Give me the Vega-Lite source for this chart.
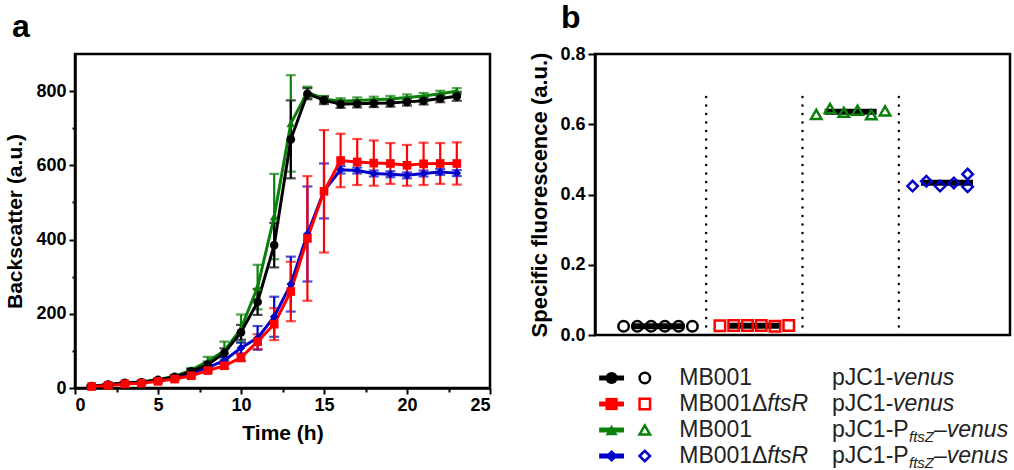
{
  "$schema": "https://vega.github.io/schema/vega-lite/v6.json",
  "background": "white",
  "padding": {"left": 3, "top": 0, "right": 0, "bottom": 0},
  "spacing": 34,
  "resolve": {"scale": {"x": "independent", "y": "independent", "color": "independent", "shape": "independent"}},
  "config": {
    "font": "Liberation Sans",
    "view": {"stroke": "black", "strokeWidth": 2.5},
    "axis": {"domainColor": "black", "domainWidth": 2.5, "tickColor": "black", "tickWidth": 2, "labelColor": "black", "labelFontWeight": "bold", "labelFontSize": 18, "labelFont": "Liberation Sans", "titleColor": "black", "titleFontWeight": "bold", "titleFontSize": 21, "titleFont": "Liberation Sans", "grid": false},
    "title": {"font": "Liberation Sans", "fontWeight": "bold", "fontSize": 32, "color": "black", "anchor": "start", "frame": "group"}
  },
  "hconcat": [
    {
      "width": 415,
      "height": 334,
      "title": {"text": "a", "dx": -63, "offset": 10},
      "data": {"values": [
        {"series": "MB001 pJC1-PftsZ-venus", "t": 1, "v": 5, "e": 2},
        {"series": "MB001 pJC1-PftsZ-venus", "t": 2, "v": 9, "e": 2},
        {"series": "MB001 pJC1-PftsZ-venus", "t": 3, "v": 14, "e": 2},
        {"series": "MB001 pJC1-PftsZ-venus", "t": 4, "v": 16, "e": 2},
        {"series": "MB001 pJC1-PftsZ-venus", "t": 5, "v": 23, "e": 3},
        {"series": "MB001 pJC1-PftsZ-venus", "t": 6, "v": 31, "e": 4},
        {"series": "MB001 pJC1-PftsZ-venus", "t": 7, "v": 48, "e": 6},
        {"series": "MB001 pJC1-PftsZ-venus", "t": 8, "v": 72, "e": 12},
        {"series": "MB001 pJC1-PftsZ-venus", "t": 9, "v": 100, "e": 25},
        {"series": "MB001 pJC1-PftsZ-venus", "t": 10, "v": 160, "e": 38},
        {"series": "MB001 pJC1-PftsZ-venus", "t": 11, "v": 272, "e": 60},
        {"series": "MB001 pJC1-PftsZ-venus", "t": 12, "v": 462, "e": 115},
        {"series": "MB001 pJC1-PftsZ-venus", "t": 13, "v": 713, "e": 130},
        {"series": "MB001 pJC1-PftsZ-venus", "t": 14, "v": 797, "e": 15},
        {"series": "MB001 pJC1-PftsZ-venus", "t": 15, "v": 779, "e": 8},
        {"series": "MB001 pJC1-PftsZ-venus", "t": 16, "v": 773, "e": 8},
        {"series": "MB001 pJC1-PftsZ-venus", "t": 17, "v": 775, "e": 8},
        {"series": "MB001 pJC1-PftsZ-venus", "t": 18, "v": 777, "e": 8},
        {"series": "MB001 pJC1-PftsZ-venus", "t": 19, "v": 779, "e": 8},
        {"series": "MB001 pJC1-PftsZ-venus", "t": 20, "v": 783, "e": 8},
        {"series": "MB001 pJC1-PftsZ-venus", "t": 21, "v": 787, "e": 8},
        {"series": "MB001 pJC1-PftsZ-venus", "t": 22, "v": 793, "e": 8},
        {"series": "MB001 pJC1-PftsZ-venus", "t": 23, "v": 800, "e": 8},
        {"series": "MB001ΔftsR pJC1-PftsZ-venus", "t": 1, "v": 5, "e": 2},
        {"series": "MB001ΔftsR pJC1-PftsZ-venus", "t": 2, "v": 9, "e": 2},
        {"series": "MB001ΔftsR pJC1-PftsZ-venus", "t": 3, "v": 13, "e": 2},
        {"series": "MB001ΔftsR pJC1-PftsZ-venus", "t": 4, "v": 15, "e": 2},
        {"series": "MB001ΔftsR pJC1-PftsZ-venus", "t": 5, "v": 20, "e": 3},
        {"series": "MB001ΔftsR pJC1-PftsZ-venus", "t": 6, "v": 27, "e": 4},
        {"series": "MB001ΔftsR pJC1-PftsZ-venus", "t": 7, "v": 40, "e": 5},
        {"series": "MB001ΔftsR pJC1-PftsZ-venus", "t": 8, "v": 55, "e": 7},
        {"series": "MB001ΔftsR pJC1-PftsZ-venus", "t": 9, "v": 74, "e": 9},
        {"series": "MB001ΔftsR pJC1-PftsZ-venus", "t": 10, "v": 108, "e": 15},
        {"series": "MB001ΔftsR pJC1-PftsZ-venus", "t": 11, "v": 135, "e": 32},
        {"series": "MB001ΔftsR pJC1-PftsZ-venus", "t": 12, "v": 192, "e": 54},
        {"series": "MB001ΔftsR pJC1-PftsZ-venus", "t": 13, "v": 280, "e": 74},
        {"series": "MB001ΔftsR pJC1-PftsZ-venus", "t": 14, "v": 415, "e": 128},
        {"series": "MB001ΔftsR pJC1-PftsZ-venus", "t": 15, "v": 531, "e": 74},
        {"series": "MB001ΔftsR pJC1-PftsZ-venus", "t": 16, "v": 588, "e": 10},
        {"series": "MB001ΔftsR pJC1-PftsZ-venus", "t": 17, "v": 586, "e": 8},
        {"series": "MB001ΔftsR pJC1-PftsZ-venus", "t": 18, "v": 578, "e": 8},
        {"series": "MB001ΔftsR pJC1-PftsZ-venus", "t": 19, "v": 576, "e": 8},
        {"series": "MB001ΔftsR pJC1-PftsZ-venus", "t": 20, "v": 573, "e": 8},
        {"series": "MB001ΔftsR pJC1-PftsZ-venus", "t": 21, "v": 578, "e": 8},
        {"series": "MB001ΔftsR pJC1-PftsZ-venus", "t": 22, "v": 582, "e": 8},
        {"series": "MB001ΔftsR pJC1-PftsZ-venus", "t": 23, "v": 579, "e": 8},
        {"series": "MB001 pJC1-venus", "t": 1, "v": 5, "e": 2},
        {"series": "MB001 pJC1-venus", "t": 2, "v": 9, "e": 2},
        {"series": "MB001 pJC1-venus", "t": 3, "v": 14, "e": 2},
        {"series": "MB001 pJC1-venus", "t": 4, "v": 15, "e": 2},
        {"series": "MB001 pJC1-venus", "t": 5, "v": 22, "e": 3},
        {"series": "MB001 pJC1-venus", "t": 6, "v": 30, "e": 4},
        {"series": "MB001 pJC1-venus", "t": 7, "v": 45, "e": 6},
        {"series": "MB001 pJC1-venus", "t": 8, "v": 63, "e": 8},
        {"series": "MB001 pJC1-venus", "t": 9, "v": 95, "e": 12},
        {"series": "MB001 pJC1-venus", "t": 10, "v": 150, "e": 20},
        {"series": "MB001 pJC1-venus", "t": 11, "v": 232, "e": 35},
        {"series": "MB001 pJC1-venus", "t": 12, "v": 385, "e": 60},
        {"series": "MB001 pJC1-venus", "t": 13, "v": 670, "e": 105},
        {"series": "MB001 pJC1-venus", "t": 14, "v": 793, "e": 15},
        {"series": "MB001 pJC1-venus", "t": 15, "v": 775, "e": 10},
        {"series": "MB001 pJC1-venus", "t": 16, "v": 765, "e": 10},
        {"series": "MB001 pJC1-venus", "t": 17, "v": 766, "e": 10},
        {"series": "MB001 pJC1-venus", "t": 18, "v": 767, "e": 10},
        {"series": "MB001 pJC1-venus", "t": 19, "v": 768, "e": 10},
        {"series": "MB001 pJC1-venus", "t": 20, "v": 771, "e": 10},
        {"series": "MB001 pJC1-venus", "t": 21, "v": 774, "e": 10},
        {"series": "MB001 pJC1-venus", "t": 22, "v": 780, "e": 10},
        {"series": "MB001 pJC1-venus", "t": 23, "v": 786, "e": 12},
        {"series": "MB001ΔftsR pJC1-venus", "t": 1, "v": 4, "e": 2},
        {"series": "MB001ΔftsR pJC1-venus", "t": 2, "v": 7, "e": 2},
        {"series": "MB001ΔftsR pJC1-venus", "t": 3, "v": 11, "e": 2},
        {"series": "MB001ΔftsR pJC1-venus", "t": 4, "v": 13, "e": 2},
        {"series": "MB001ΔftsR pJC1-venus", "t": 5, "v": 18, "e": 3},
        {"series": "MB001ΔftsR pJC1-venus", "t": 6, "v": 24, "e": 4},
        {"series": "MB001ΔftsR pJC1-venus", "t": 7, "v": 33, "e": 5},
        {"series": "MB001ΔftsR pJC1-venus", "t": 8, "v": 47, "e": 6},
        {"series": "MB001ΔftsR pJC1-venus", "t": 9, "v": 60, "e": 8},
        {"series": "MB001ΔftsR pJC1-venus", "t": 10, "v": 82, "e": 10},
        {"series": "MB001ΔftsR pJC1-venus", "t": 11, "v": 125, "e": 20},
        {"series": "MB001ΔftsR pJC1-venus", "t": 12, "v": 172, "e": 43},
        {"series": "MB001ΔftsR pJC1-venus", "t": 13, "v": 260, "e": 80},
        {"series": "MB001ΔftsR pJC1-venus", "t": 14, "v": 403, "e": 168},
        {"series": "MB001ΔftsR pJC1-venus", "t": 15, "v": 530, "e": 165},
        {"series": "MB001ΔftsR pJC1-venus", "t": 16, "v": 613, "e": 72},
        {"series": "MB001ΔftsR pJC1-venus", "t": 17, "v": 609, "e": 62},
        {"series": "MB001ΔftsR pJC1-venus", "t": 18, "v": 606, "e": 61},
        {"series": "MB001ΔftsR pJC1-venus", "t": 19, "v": 605, "e": 55},
        {"series": "MB001ΔftsR pJC1-venus", "t": 20, "v": 600, "e": 55},
        {"series": "MB001ΔftsR pJC1-venus", "t": 21, "v": 604, "e": 57},
        {"series": "MB001ΔftsR pJC1-venus", "t": 22, "v": 605, "e": 55},
        {"series": "MB001ΔftsR pJC1-venus", "t": 23, "v": 605, "e": 57}
      ]},
      "encoding": {
        "x": {"field": "t", "type": "quantitative", "scale": {"domain": [0, 25], "nice": false},
          "axis": {"title": "Time (h)", "values": [0, 2.5, 5, 7.5, 10, 12.5, 15, 17.5, 20, 22.5, 25],
            "labelExpr": "datum.value % 5 === 0 ? datum.label : ''",
            "tickSize": {"condition": {"test": "datum.value % 5 === 0", "value": 6}, "value": 4},
            "labelPadding": 2, "titlePadding": 8}},
        "y": {"field": "v", "type": "quantitative", "scale": {"domain": [0, 900], "nice": false},
          "axis": {"title": "Backscatter (a.u.)", "values": [0, 100, 200, 300, 400, 500, 600, 700, 800],
            "labelExpr": "datum.value % 200 === 0 ? datum.label : ''",
            "tickSize": {"condition": {"test": "datum.value % 200 === 0", "value": 6}, "value": 3},
            "labelPadding": 3, "titlePadding": 10}},
        "color": {"field": "series", "type": "nominal", "legend": null,
          "scale": {"domain": ["MB001 pJC1-venus", "MB001ΔftsR pJC1-venus", "MB001 pJC1-PftsZ-venus", "MB001ΔftsR pJC1-PftsZ-venus"], "range": ["#000000", "#ff0000", "#0a800a", "#0000c8"]}}
      },
      "layer": [
        {"mark": {"type": "errorbar", "ticks": true, "thickness": 2.2, "size": 10},
          "encoding": {"yError": {"field": "e"}}},
        {"mark": {"type": "line", "strokeWidth": 3}},
        {"mark": {"type": "point", "filled": true, "opacity": 1, "size": 75},
          "encoding": {"shape": {"field": "series", "type": "nominal", "legend": null,
            "scale": {"domain": ["MB001 pJC1-venus", "MB001ΔftsR pJC1-venus", "MB001 pJC1-PftsZ-venus", "MB001ΔftsR pJC1-PftsZ-venus"], "range": ["circle", "square", "triangle-up", "diamond"]}}}}
      ]
    },
    {
      "spacing": 19,
      "resolve": {"scale": {"x": "independent", "y": "independent", "color": "independent", "shape": "independent"}},
      "vconcat": [
        {
          "width": 415,
          "height": 281,
          "title": {"text": "b", "dx": -34, "offset": 10},
          "data": {"values": [
            {"series": "MB001 pJC1-venus", "r": 1, "v": 0.025},
            {"series": "MB001 pJC1-venus", "r": 2, "v": 0.025},
            {"series": "MB001 pJC1-venus", "r": 3, "v": 0.025},
            {"series": "MB001 pJC1-venus", "r": 4, "v": 0.025},
            {"series": "MB001 pJC1-venus", "r": 5, "v": 0.025},
            {"series": "MB001 pJC1-venus", "r": 6, "v": 0.025},
            {"series": "MB001ΔftsR pJC1-venus", "r": 1, "v": 0.026},
            {"series": "MB001ΔftsR pJC1-venus", "r": 2, "v": 0.027},
            {"series": "MB001ΔftsR pJC1-venus", "r": 3, "v": 0.027},
            {"series": "MB001ΔftsR pJC1-venus", "r": 4, "v": 0.027},
            {"series": "MB001ΔftsR pJC1-venus", "r": 5, "v": 0.025},
            {"series": "MB001ΔftsR pJC1-venus", "r": 6, "v": 0.027},
            {"series": "MB001 pJC1-PftsZ-venus", "r": 1, "v": 0.628},
            {"series": "MB001 pJC1-PftsZ-venus", "r": 2, "v": 0.645},
            {"series": "MB001 pJC1-PftsZ-venus", "r": 3, "v": 0.634},
            {"series": "MB001 pJC1-PftsZ-venus", "r": 4, "v": 0.640},
            {"series": "MB001 pJC1-PftsZ-venus", "r": 5, "v": 0.627},
            {"series": "MB001 pJC1-PftsZ-venus", "r": 6, "v": 0.638},
            {"series": "MB001ΔftsR pJC1-PftsZ-venus", "r": 1, "v": 0.424},
            {"series": "MB001ΔftsR pJC1-PftsZ-venus", "r": 2, "v": 0.438},
            {"series": "MB001ΔftsR pJC1-PftsZ-venus", "r": 3, "v": 0.424},
            {"series": "MB001ΔftsR pJC1-PftsZ-venus", "r": 4, "v": 0.433},
            {"series": "MB001ΔftsR pJC1-PftsZ-venus", "r": 5, "v": 0.458},
            {"series": "MB001ΔftsR pJC1-PftsZ-venus", "r": 5, "v": 0.422}
          ]},
          "encoding": {
            "x": {"field": "series", "type": "nominal", "axis": null,
              "scale": {"type": "band", "domain": ["MB001 pJC1-venus", "MB001ΔftsR pJC1-venus", "MB001 pJC1-PftsZ-venus", "MB001ΔftsR pJC1-PftsZ-venus"], "paddingInner": 0, "paddingOuter": 0.154}},
            "y": {"type": "quantitative", "scale": {"domain": [0, 0.8], "nice": false},
              "axis": {"title": "Specific fluorescence (a.u.)", "titleFontSize": 22, "values": [0, 0.2, 0.4, 0.6, 0.8], "format": ".1f", "tickSize": 7, "labelPadding": 3, "titlePadding": 8}}
          },
          "layer": [
            {"data": {"values": [{"series": "MB001ΔftsR pJC1-venus"}, {"series": "MB001 pJC1-PftsZ-venus"}, {"series": "MB001ΔftsR pJC1-PftsZ-venus"}]},
              "mark": {"type": "rule", "color": "black", "strokeWidth": 2.5, "strokeDash": [0, 8.5], "strokeCap": "round"},
              "encoding": {"x": {"field": "series", "type": "nominal", "bandPosition": 0}, "y": {"datum": 0}, "y2": {"datum": 0.68}}},
            {"mark": {"type": "tick", "color": "black", "size": 52, "thickness": 6, "orient": "horizontal"},
              "encoding": {"y": {"field": "v", "aggregate": "mean"}}},
            {"mark": {"type": "point", "filled": false, "size": 110, "strokeWidth": 2.5, "opacity": 1},
              "encoding": {
                "y": {"field": "v"},
                "xOffset": {"field": "r", "type": "ordinal", "scale": {"type": "point", "padding": 2.4}},
                "color": {"field": "series", "type": "nominal", "legend": null,
                  "scale": {"domain": ["MB001 pJC1-venus", "MB001ΔftsR pJC1-venus", "MB001 pJC1-PftsZ-venus", "MB001ΔftsR pJC1-PftsZ-venus"], "range": ["#000000", "#ff0000", "#0a800a", "#0000c8"]}},
                "shape": {"field": "series", "type": "nominal", "legend": null,
                  "scale": {"domain": ["MB001 pJC1-venus", "MB001ΔftsR pJC1-venus", "MB001 pJC1-PftsZ-venus", "MB001ΔftsR pJC1-PftsZ-venus"], "range": ["circle", "square", "triangle-up", "diamond"]}}}}
          ]
        },
        {
          "width": 415,
          "height": 104,
          "view": {"stroke": null},
          "data": {"values": [
            {"series": "MB001 pJC1-venus", "row": 1, "strain": "MB001", "strainIt": "", "plasmid": "pJC1-", "sub": "", "tail": "venus"},
            {"series": "MB001ΔftsR pJC1-venus", "row": 2, "strain": "MB001Δ", "strainIt": "ftsR", "plasmid": "pJC1-", "sub": "", "tail": "venus"},
            {"series": "MB001 pJC1-PftsZ-venus", "row": 3, "strain": "MB001", "strainIt": "", "plasmid": "pJC1-P", "sub": "ftsZ", "tail": "–venus"},
            {"series": "MB001ΔftsR pJC1-PftsZ-venus", "row": 4, "strain": "MB001Δ", "strainIt": "ftsR", "plasmid": "pJC1-P", "sub": "ftsZ", "tail": "–venus"}
          ]},
          "encoding": {
            "y": {"field": "row", "type": "quantitative", "scale": {"domain": [0.5, 4.5], "reverse": true}, "axis": null},
            "color": {"field": "series", "type": "nominal", "legend": null,
              "scale": {"domain": ["MB001 pJC1-venus", "MB001ΔftsR pJC1-venus", "MB001 pJC1-PftsZ-venus", "MB001ΔftsR pJC1-PftsZ-venus"], "range": ["#000000", "#ff0000", "#0a800a", "#0000c8"]}}
          },
          "layer": [
            {"mark": {"type": "rule", "strokeWidth": 5},
              "encoding": {"x": {"datum": 0.01, "type": "quantitative", "scale": {"domain": [0, 1]}, "axis": null}, "x2": {"datum": 0.07}}},
            {"mark": {"type": "point", "filled": true, "opacity": 1, "size": 150},
              "encoding": {"x": {"datum": 0.04, "type": "quantitative"},
                "shape": {"field": "series", "type": "nominal", "legend": null,
                  "scale": {"domain": ["MB001 pJC1-venus", "MB001ΔftsR pJC1-venus", "MB001 pJC1-PftsZ-venus", "MB001ΔftsR pJC1-PftsZ-venus"], "range": ["circle", "square", "triangle-up", "diamond"]}}}},
            {"mark": {"type": "point", "filled": false, "opacity": 1, "size": 110, "strokeWidth": 2.5},
              "encoding": {"x": {"datum": 0.12, "type": "quantitative"},
                "shape": {"field": "series", "type": "nominal", "legend": null,
                  "scale": {"domain": ["MB001 pJC1-venus", "MB001ΔftsR pJC1-venus", "MB001 pJC1-PftsZ-venus", "MB001ΔftsR pJC1-PftsZ-venus"], "range": ["circle", "square", "triangle-up", "diamond"]}}}},
            {"mark": {"type": "text", "align": "left", "fontSize": 23},
              "encoding": {"x": {"datum": 0.203, "type": "quantitative"}, "text": {"field": "strain"}, "color": {"value": "#222222"}}},
            {"mark": {"type": "text", "align": "left", "fontSize": 23, "fontStyle": "italic", "dx": 88},
              "encoding": {"x": {"datum": 0.203, "type": "quantitative"}, "text": {"field": "strainIt"}, "color": {"value": "#222222"}}},
            {"mark": {"type": "text", "align": "left", "fontSize": 23},
              "encoding": {"x": {"datum": 0.571, "type": "quantitative"}, "text": {"field": "plasmid"}, "color": {"value": "#222222"}}},
            {"transform": [{"filter": "datum.sub === ''"}],
              "mark": {"type": "text", "align": "left", "fontSize": 23, "fontStyle": "italic", "dx": 61},
              "encoding": {"x": {"datum": 0.571, "type": "quantitative"}, "text": {"field": "tail"}, "color": {"value": "#222222"}}},
            {"transform": [{"filter": "datum.sub !== ''"}],
              "mark": {"type": "text", "align": "left", "fontSize": 15, "fontStyle": "italic", "dx": 77, "dy": 7},
              "encoding": {"x": {"datum": 0.571, "type": "quantitative"}, "text": {"field": "sub"}, "color": {"value": "#222222"}}},
            {"transform": [{"filter": "datum.sub !== ''"}],
              "mark": {"type": "text", "align": "left", "fontSize": 23, "fontStyle": "italic", "dx": 102},
              "encoding": {"x": {"datum": 0.571, "type": "quantitative"}, "text": {"field": "tail"}, "color": {"value": "#222222"}}}
          ]
        }
      ]
    }
  ]
}
